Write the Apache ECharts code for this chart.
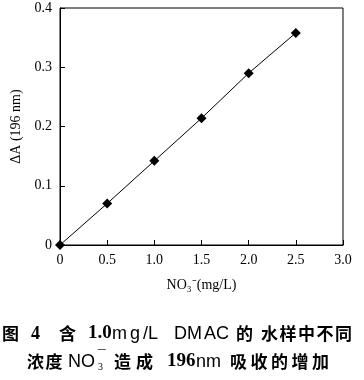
<!DOCTYPE html>
<html><head><meta charset="utf-8">
<script src="https://cdn.jsdelivr.net/npm/echarts@6/dist/echarts.min.js"></script>
<style>html,body{margin:0;padding:0;background:#fff}#c{width:364px;height:380px}</style>
</head><body><div id="c"></div>
<script>
const concentrations = [0, 0.5, 1.0, 1.5, 2.0, 2.5];
const deltaA = [0, 0.070, 0.142, 0.214, 0.290, 0.358];
const xTicks = ['0', '0.5', '1.0', '1.5', '2.0', '2.5', '3.0'];
const yTicks = ['0', '0.1', '0.2', '0.3', '0.4'];
const xName = 'NO₃⁻(mg/L)';
const yName = 'ΔA (196 nm)';

const chart = echarts.init(document.getElementById('c'));
const serif = '"Liberation Serif","Times New Roman",serif';
const cjk = '"Noto Sans CJK SC",sans-serif';
const sans = '"Liberation Sans",Arial,sans-serif';

function piece(x, y, text, font, size, weight) {
  return {type: 'text', x: x, y: y, style: {text: text, fontFamily: font, fontSize: size,
    fontWeight: weight || 'bold', fill: '#000', textVerticalAlign: 'middle', textAlign: 'left'}};
}
function chars(xs, y, text) {
  return text.split('').map((ch, i) => piece(xs[i], y, ch, cjk, 17));
}
const y1 = 334, y2 = 362;
const caption = [].concat(
  chars([2], y1, '图'),
  [piece(31, y1, '4', serif, 18)],
  chars([59], y1, '含'),
  [piece(88, y1 - 1, '1.0', serif, 19),
   piece(112, y1, 'm', sans, 18, 'normal'), piece(130, y1, 'g', sans, 18, 'normal'),
   piece(143, y1, '/L', sans, 18, 'normal'),
   piece(174, y1, 'DM', sans, 18, 'normal'), piece(204, y1, 'AC', sans, 18, 'normal')],
  chars([236, 261, 279.5, 298, 316.5, 335], y1, '的水样中不同'),
  chars([27, 45.5], y2, '浓度'),
  [piece(68, y2, 'NO', sans, 18, 'normal'),
   piece(98, y2 + 5, '3', serif, 10, 'normal'), piece(98, y2 - 6, '¯', sans, 14, 'normal')],
  chars([114, 136], y2, '造成'),
  [piece(167, y2 - 1, '196', serif, 19), piece(196, y2, 'nm', sans, 18, 'normal')],
  chars([230, 250.5, 271, 291.5, 312], y2, '吸收的增加')
);

chart.setOption({
  animation: false,
  grid: {left: 60, right: 21, top: 8, bottom: 135, show: true, borderColor: '#000', borderWidth: 1},
  xAxis: {
    type: 'value', min: 0, max: 3, interval: 0.5,
    name: xName, nameLocation: 'middle', nameGap: 33,
    nameTextStyle: {fontFamily: serif, fontSize: 14, color: '#000'},
    axisLine: {lineStyle: {color: '#000', width: 1}},
    axisTick: {inside: true, length: 5, lineStyle: {color: '#000'}},
    axisLabel: {fontFamily: serif, fontSize: 14, color: '#000', margin: 8,
      formatter: (v) => xTicks[Math.round(v * 2)]},
    splitLine: {show: false}
  },
  yAxis: {
    type: 'value', min: 0, max: 0.4, interval: 0.1,
    name: yName, nameLocation: 'middle', nameGap: 34, nameRotate: 90,
    nameTextStyle: {fontFamily: serif, fontSize: 14, color: '#000'},
    axisLine: {lineStyle: {color: '#000', width: 1}},
    axisTick: {inside: true, length: 5, lineStyle: {color: '#000'}},
    axisLabel: {fontFamily: serif, fontSize: 14, color: '#000', margin: 8,
      formatter: (v) => yTicks[Math.round(v * 10)]},
    splitLine: {show: false}
  },
  series: [{
    type: 'line',
    data: concentrations.map((c, i) => [c, deltaA[i]]),
    symbol: 'diamond', symbolSize: 10,
    itemStyle: {color: '#000'},
    lineStyle: {color: '#000', width: 1}
  }],
  graphic: caption
});
</script></body></html>
